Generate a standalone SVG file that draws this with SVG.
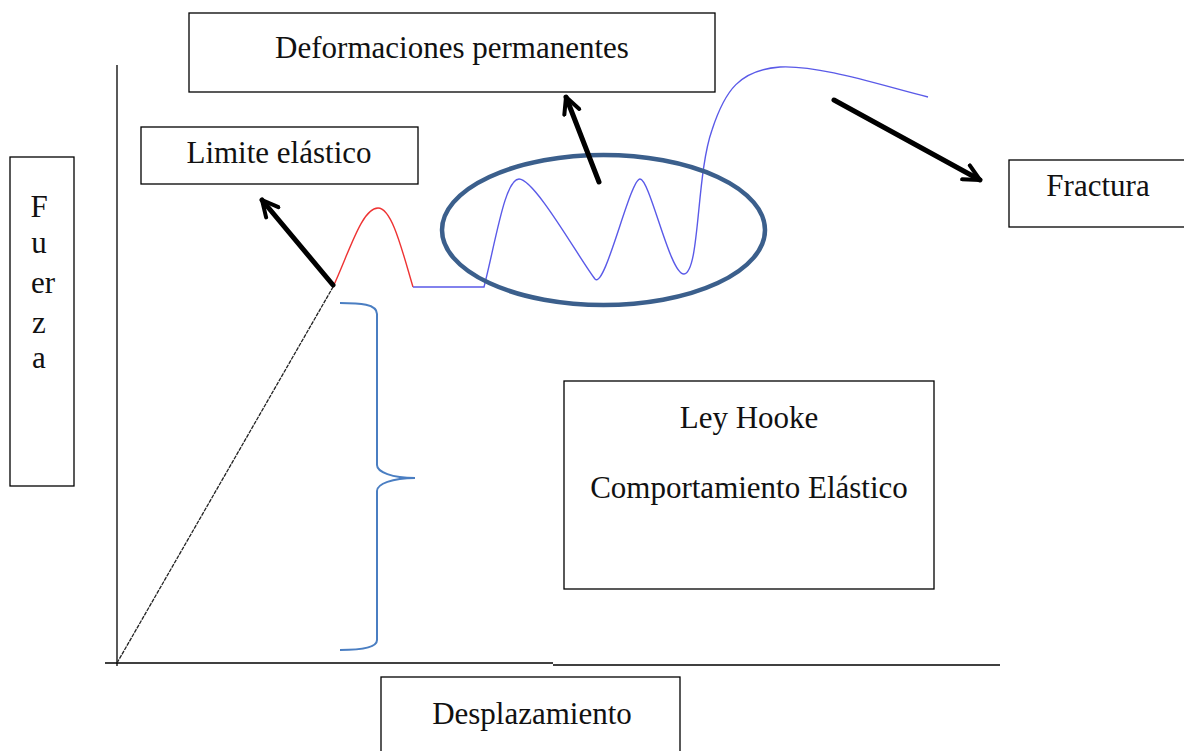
<svg xmlns="http://www.w3.org/2000/svg" width="1184" height="751" viewBox="0 0 1184 751">
  <style>
    .box { fill: #ffffff; stroke: #000000; stroke-width: 1.3; }
    .lbl { font-family: "Liberation Serif", "DejaVu Serif", serif; font-size: 31px; fill: #111111; text-anchor: middle; }
    .axis { stroke: #000000; stroke-width: 1.3; fill: none; }
    .arrow { stroke: #000000; stroke-width: 5; fill: none; stroke-linecap: round; }
  </style>
  <defs>
    <marker id="openHead" viewBox="0 0 10 10" refX="9" refY="5" markerWidth="4" markerHeight="4" orient="auto" markerUnits="strokeWidth">
      <path d="M1,1 L9,5 L1,9" fill="none" stroke="#000000" stroke-width="2" stroke-linecap="round" stroke-linejoin="round"/>
    </marker>
  </defs>
  <rect width="1184" height="751" fill="#ffffff"/>

  <!-- axes -->
  <g id="axes">
    <line class="axis" x1="117" y1="65" x2="117" y2="666"/>
    <line class="axis" x1="105" y1="663" x2="553" y2="663"/>
    <line class="axis" x1="553" y1="665" x2="1000" y2="665"/>
  </g>

  <!-- stress-strain curve -->
  <g id="curve" fill="none">
    <line x1="117" y1="663" x2="333" y2="287" stroke="#222222" stroke-width="1.3" stroke-dasharray="4,1"/>
    <path d="M333,287 C350,250 362,208 378,208 C392,208 402,250 413,287" stroke="#ee3333" stroke-width="1.4"/>
    <path d="M413,287 L484,287 C496,240 505,179 519,179 C535,179 580,260 595,279 C605,290 630,179 640,179 C650,179 670,275 684,274 C700,272 696,175 712,130 C725,90 740,70 780,67 C820,65 880,85 928,97" stroke="#5a5ae8" stroke-width="1.4"/>
  </g>

  <!-- elastic range brace -->
  <g id="brace">
    <path d="M340,303 C360,303 377,304 377,314 L377,465 C377,472 392,478 415,478 C392,478 377,484 377,491 L377,640 C377,648 360,650 340,650" fill="none" stroke="#4a7ec2" stroke-width="2"/>
  </g>

  <!-- plastic zone highlight -->
  <g id="zone">
    <ellipse cx="603.5" cy="230" rx="161.5" ry="75" fill="none" stroke="#3b5f8c" stroke-width="4.5"/>
  </g>

  <!-- labels -->
  <g id="deformaciones">
    <rect class="box" x="189" y="13" width="526" height="79"/>
    <text class="lbl" x="452" y="58">Deformaciones permanentes</text>
  </g>
  <g id="limite">
    <rect class="box" x="141" y="127" width="277" height="57"/>
    <text class="lbl" x="279" y="163">Limite elástico</text>
  </g>
  <g id="fuerza">
    <rect class="box" x="10" y="157" width="64" height="329"/>
    <text class="lbl" x="39" y="217">F</text>
    <text class="lbl" x="39" y="253">u</text>
    <text class="lbl" x="43" y="293">er</text>
    <text class="lbl" x="39" y="333">z</text>
    <text class="lbl" x="39" y="368">a</text>
  </g>
  <g id="fractura">
    <rect class="box" x="1009" y="160" width="190" height="67"/>
    <text class="lbl" x="1098" y="196">Fractura</text>
  </g>
  <g id="hooke">
    <rect class="box" x="564" y="381" width="370" height="208"/>
    <text class="lbl" x="749" y="428">Ley Hooke</text>
    <text class="lbl" x="749" y="498">Comportamiento Elástico</text>
  </g>
  <g id="desplazamiento">
    <rect class="box" x="381" y="677" width="299" height="90"/>
    <text class="lbl" x="532" y="724">Desplazamiento</text>
  </g>

  <!-- pointer arrows -->
  <g id="connectors">
    <line class="arrow" x1="333" y1="285" x2="262" y2="200" marker-end="url(#openHead)"/>
    <line class="arrow" x1="599" y1="182" x2="566" y2="97" marker-end="url(#openHead)"/>
    <line class="arrow" x1="834" y1="100" x2="980" y2="180" marker-end="url(#openHead)"/>
  </g>
</svg>
